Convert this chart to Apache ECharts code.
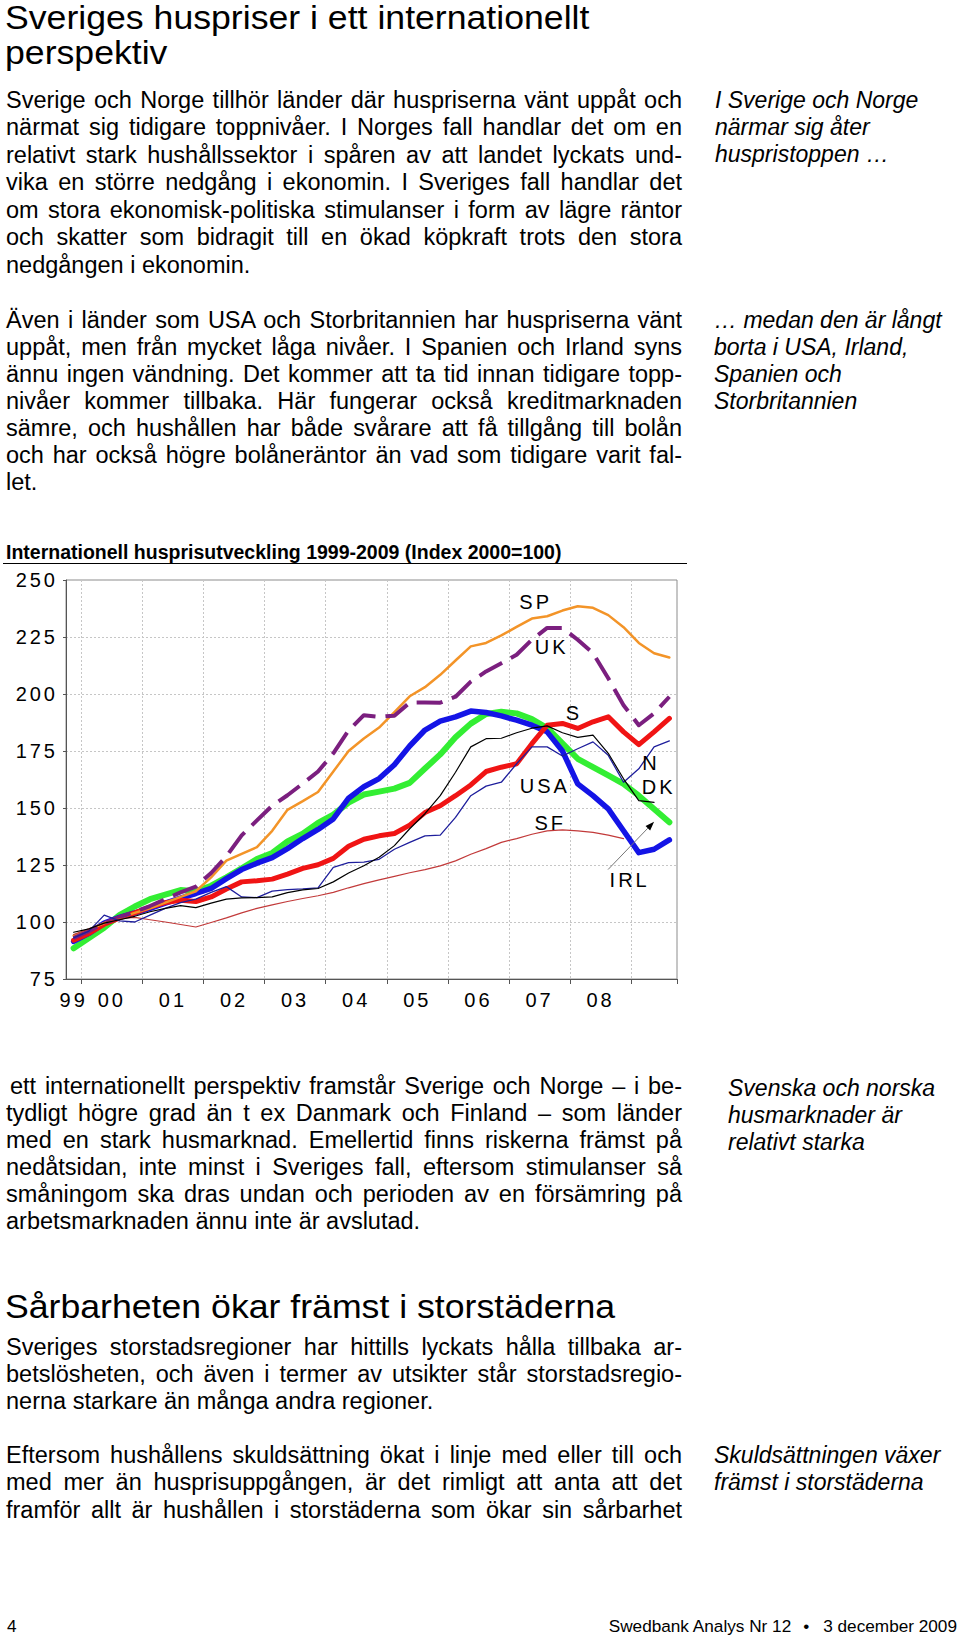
<!DOCTYPE html>
<html lang="sv">
<head>
<meta charset="utf-8">
<title>Sveriges huspriser i ett internationellt perspektiv</title>
<script src="https://cdn.jsdelivr.net/npm/echarts/dist/echarts.min.js"></script>
<style>
  html, body { margin: 0; padding: 0; background: #fff; }
  body { width: 960px; height: 1640px; position: relative; overflow: hidden;
         font-family: "Liberation Sans", Arial, Helvetica, sans-serif; color: #000; }
  .h1 { position: absolute; left: 5px; font-size: 33px; line-height: 35px; height: 35px; white-space: nowrap;
        transform: scaleX(1.08); transform-origin: 0 0; }
  .p { position: absolute; left: 6px; width: 676px; font-size: 23.5px; }
  .p div { text-align: justify; text-align-last: justify; }
  .p div.last { text-align-last: left; }
  .side { position: absolute; font-style: italic; font-size: 23px; white-space: nowrap; }
  .ctitle { position: absolute; left: 6px; top: 540.5px; font-weight: bold; font-size: 19.5px; line-height: 22px; white-space: nowrap; }
  .rule { position: absolute; left: 3px; top: 562.5px; width: 684px; height: 1.6px; background: #000; }
  .foot { position: absolute; top: 1615.6px; font-size: 17.2px; line-height: 20px; white-space: nowrap; }
  .foot .bul { display: inline-block; margin: 0 14px 0 12px; }
  #chart { position: absolute; left: 0; top: 0; width: 960px; height: 1640px; }
  #chart text { letter-spacing: 3px; }
</style>
</head>
<body>

<div class="h1" style="top:0px">Sveriges huspriser i ett internationellt</div>
<div class="h1" style="top:35px">perspektiv</div>

<div class="p" style="top:86.5px; line-height:27.6px">
  <div>Sverige och Norge tillhör länder där huspriserna vänt uppåt och</div>
  <div>närmat sig tidigare toppnivåer. I Norges fall handlar det om en</div>
  <div>relativt stark hushållssektor i spåren av att landet lyckats und-</div>
  <div>vika en större nedgång i ekonomin. I Sveriges fall handlar det</div>
  <div>om stora ekonomisk-politiska stimulanser i form av lägre räntor</div>
  <div>och skatter som bidragit till en ökad köpkraft trots den stora</div>
  <div class="last">nedgången i ekonomin.</div>
</div>

<div class="p" style="top:306.5px; line-height:27.1px">
  <div>Även i länder som USA och Storbritannien har huspriserna vänt</div>
  <div>uppåt, men från mycket låga nivåer. I Spanien och Irland syns</div>
  <div>ännu ingen vändning. Det kommer att ta tid innan tidigare topp-</div>
  <div>nivåer kommer tillbaka. Här fungerar också kreditmarknaden</div>
  <div>sämre, och hushållen har både svårare att få tillgång till bolån</div>
  <div>och har också högre bolåneräntor än vad som tidigare varit fal-</div>
  <div class="last">let.</div>
</div>

<div class="side" style="left:715px; top:86.6px; line-height:27.4px">I Sverige och Norge<br>närmar sig åter<br>huspristoppen …</div>
<div class="side" style="left:714px; top:306.5px; line-height:27px">… medan den är långt<br>borta i USA, Irland,<br>Spanien och<br>Storbritannien</div>

<div class="ctitle">Internationell husprisutveckling 1999-2009 (Index 2000=100)</div>
<div class="rule"></div>

<div class="p" style="top:1072.7px; line-height:27.15px">
  <div style="padding-left:4px">ett internationellt perspektiv framstår Sverige och Norge – i be-</div>
  <div>tydligt högre grad än t ex Danmark och Finland – som länder</div>
  <div>med en stark husmarknad. Emellertid finns riskerna främst på</div>
  <div>nedåtsidan, inte minst i Sveriges fall, eftersom stimulanser så</div>
  <div>småningom ska dras undan och perioden av en försämring på</div>
  <div class="last">arbetsmarknaden ännu inte är avslutad.</div>
</div>
<div class="side" style="left:728px; top:1075.2px; line-height:26.8px">Svenska och norska<br>husmarknader är<br>relativt starka</div>

<div class="h1" style="top:1289px">Sårbarheten ökar främst i storstäderna</div>

<div class="p" style="top:1334.2px; line-height:27.1px">
  <div>Sveriges storstadsregioner har hittills lyckats hålla tillbaka ar-</div>
  <div>betslösheten, och även i termer av utsikter står storstadsregio-</div>
  <div class="last">nerna starkare än många andra regioner.</div>
</div>

<div class="p" style="top:1441.5px; line-height:27.5px">
  <div>Eftersom hushållens skuldsättning ökat i linje med eller till och</div>
  <div>med mer än husprisuppgången, är det rimligt att anta att det</div>
  <div>framför allt är hushållen i storstäderna som ökar sin sårbarhet</div>
</div>
<div class="side" style="left:714px; top:1441.6px; line-height:27.7px">Skuldsättningen växer<br>främst i storstäderna</div>

<div class="foot" style="left:7px">4</div>
<div class="foot" style="right:3px">Swedbank Analys Nr 12<span class="bul">•</span>3 december 2009</div>

<div id="chart"></div>

<script>
// ---- Data (quarterly, index 2000 = 100) ----
const quarters = [
  '1999Q4',
  '2000Q1','2000Q2','2000Q3','2000Q4',
  '2001Q1','2001Q2','2001Q3','2001Q4',
  '2002Q1','2002Q2','2002Q3','2002Q4',
  '2003Q1','2003Q2','2003Q3','2003Q4',
  '2004Q1','2004Q2','2004Q3','2004Q4',
  '2005Q1','2005Q2','2005Q3','2005Q4',
  '2006Q1','2006Q2','2006Q3','2006Q4',
  '2007Q1','2007Q2','2007Q3','2007Q4',
  '2008Q1','2008Q2','2008Q3','2008Q4',
  '2009Q1','2009Q2','2009Q3'
];

const spain = [94, 96.5, 99.5, 101.8, 104, 106, 108.5, 111, 113.5, 119.6,
  126.9, 129.9, 132.8, 140, 149.2, 153, 157, 166, 175, 180.5,
  185.3, 192, 199, 203, 208.4, 214.7, 220.9, 222.4, 225.7, 229.4,
  233.1, 234.1, 236.6, 238.5, 237.8, 234.6, 229.3, 222.4, 217.9, 216];

const uk = [93, 96, 99.5, 102, 104.5, 107, 110, 113, 115.5, 121.5,
  128.8, 138, 144.6, 151, 155.6, 160.7, 166, 174, 184, 190.7,
  190, 190.5, 196.2, 196.3, 196.2, 198.8, 205.4, 209.9, 213.5, 217.2,
  223.8, 229, 229, 223.8, 217.9, 206.9, 195.1, 186.3, 191.5, 198.8];

const sweden = [92, 95, 99, 101.8, 104, 106.5, 108.5, 109.5, 109, 111,
  114.5, 117.6, 118.1, 118.8, 121, 123.5, 125.1, 127.9, 133.2, 136.3,
  137.8, 138.8, 142.5, 148, 151, 155.4, 160.1, 166, 167.9, 169.4,
  178.2, 186.3, 187.1, 184.9, 187.8, 190, 183.4, 177.8, 183.4, 189.3];

const usa = [91.5, 95, 99.5, 102, 104, 106, 108.3, 110.5, 112.5, 114.7,
  119, 123, 125.8, 128.2, 132.2, 136.6, 140.6, 145.2, 154.3, 159.3,
  162.9, 169, 177.2, 184.2, 188.1, 190, 192.5, 191.9, 190.4, 188.5,
  186.3, 183.4, 175, 160.6, 155.4, 149.6, 140, 130.4, 131.9, 136];

const ireland = [88.5, 93, 97.5, 103, 106.8, 110, 112, 114, 113.5, 115.9,
  119.6, 123.5, 127.6, 130.3, 135.3, 138.7, 143.5, 147.1, 152.4, 155.9,
  157.2, 158.5, 161, 167.3, 173.5, 181, 187, 191.2, 192.2, 191.5,
  189, 185.1, 178.3, 171.6, 167.9, 164.3, 160.6, 155.4, 149.6, 143.7];

const norway = [93, 96, 103, 100.5, 100, 103, 106, 108.5, 110, 113,
  115.5, 111, 110.7, 113.5, 114.2, 114.5, 115, 124, 126, 126.3,
  127.5, 131.9, 134.9, 137.8, 138.1, 145.9, 155.4, 159.6, 161.3, 169.4,
  176.8, 176.8, 172.8, 176, 179, 173.1, 161.3, 167.2, 176.8, 179.4];

const denmark = [95.5, 97, 99.5, 101, 102.5, 104.5, 106, 107.2, 106.3, 108.3,
  110, 110.6, 110.7, 111, 112.9, 114.1, 114.7, 117.6, 121.5, 124.7,
  128.4, 133.5, 140.9, 147.5, 155.4, 165.7, 176.8, 180.4, 180.6, 183,
  185, 186, 183, 181, 182, 174, 162.8, 153.2, 152.5, null];

const finland = [94.5, 97, 99.5, 101.5, 102, 101, 100, 98.9, 97.8, 99.8,
  101.8, 104, 106, 107.5, 109, 110.3, 111.5, 113, 115, 116.8,
  118.5, 120, 121.6, 123, 124.6, 126.8, 129.7, 132.2, 134.9, 136.6,
  138.5, 140, 140.4, 140, 139.3, 138.1, 136.6, null, null, null];

// y axis ticks
const yMin = 75, yMax = 250, yStep = 25;
// x axis year labels
const labelYears = [1999, 2000, 2001, 2002, 2003, 2004, 2005, 2006, 2007, 2008];
const yearLabels = ['99', '00', '01', '02', '03', '04', '05', '06', '07', '08'];

// ---- Layout / annotation config (not data) ----
const FONT = '"Liberation Sans", Arial, Helvetica, sans-serif';
function qStart(q) { return parseInt(q.slice(0, 4), 10) + (parseInt(q.slice(5), 10) - 1) / 4; }
const axisStart = qStart(quarters[0]);
const axisEnd = qStart(quarters[quarters.length - 1]) + 0.25;
const EIGHTHS = Math.round((axisEnd - axisStart) * 8);
// label position: centre of the visible part of each year, in 1/8-year units
const labelAt = {};
labelYears.forEach(function (y, i) {
  const a = Math.max(y, axisStart), b = Math.min(y + 1, axisEnd);
  labelAt[Math.round(((a + b) / 2 - axisStart) * 8)] = yearLabels[i];
});
// series annotations, in (1/8-year, index) space
const annotations = [
  { text: 'SP', e: 61.5, v: 240.2 },
  { text: 'UK', e: 63.6, v: 220.7 },
  { text: 'S', e: 66.5, v: 191.8 },
  { text: 'USA', e: 62.7, v: 159.8 },
  { text: 'N', e: 76.6, v: 169.9 },
  { text: 'DK', e: 77.6, v: 159.4 },
  { text: 'SF', e: 63.4, v: 143.6 },
  { text: 'IRL', e: 73.8, v: 118.6 }
];
const arrowFrom = { e: 70.97, v: 123 }, arrowTo = { e: 77, v: 144 };

const isYearStart = function (idx, val) { return /Q1$/.test(val); };

function lineSeries(name, data, color, width, dashed) {
  return {
    name: name, type: 'line', data: data, xAxisIndex: 0, yAxisIndex: 0,
    symbol: 'none', silent: true, connectNulls: false,
    lineStyle: { color: color, width: width, type: dashed ? [26, 10] : 'solid',
                 cap: dashed ? 'butt' : 'round', join: 'round' }
  };
}

const chart = echarts.init(document.getElementById('chart'), null, { renderer: 'svg' });
chart.setOption({
  animation: false,
  textStyle: { fontFamily: FONT },
  grid: { left: 66, top: 580, width: 611, height: 399, show: true,
          borderColor: '#8c8c8c', borderWidth: 1, backgroundColor: 'transparent' },
  xAxis: [
    { type: 'category', data: quarters, boundaryGap: true, position: 'bottom',
      axisLine: { show: true, onZero: false, lineStyle: { color: '#555', width: 1 } },
      axisTick: { show: true, interval: isYearStart, length: 5, lineStyle: { color: '#555' } },
      splitLine: { show: true, interval: isYearStart, lineStyle: { color: '#c6c6c6', width: 1, type: [2, 2] } },
      axisLabel: { show: false } },
    { type: 'value', min: 0, max: EIGHTHS, interval: 1, position: 'bottom',
      axisLine: { show: false }, axisTick: { show: false }, splitLine: { show: false },
      axisLabel: { show: true, margin: 11, color: '#000', fontSize: 20, fontFamily: FONT,
                   formatter: function (v) { return labelAt[Math.round(v)] || ''; } } }
  ],
  yAxis: {
    type: 'value', min: yMin, max: yMax, interval: yStep,
    axisLine: { show: true, lineStyle: { color: '#555', width: 1 } },
    axisTick: { show: true, length: 3, lineStyle: { color: '#555' } },
    splitLine: { show: true, lineStyle: { color: '#c6c6c6', width: 1, type: [2, 2] } },
    axisLabel: { color: '#000', fontSize: 20, fontFamily: FONT, margin: 8 }
  },
  series: [
    lineSeries('IRL', ireland, '#33EE33', 6),
    lineSeries('USA', usa, '#1414E6', 5.5),
    lineSeries('S', sweden, '#F01414', 5),
    lineSeries('SP', spain, '#F39428', 2.5),
    lineSeries('UK', uk, '#7B1F7F', 4, true),
    lineSeries('SF', finland, '#C23A3A', 1.2),
    lineSeries('N', norway, '#1E1E9C', 1.3),
    lineSeries('DK', denmark, '#000000', 1.2)
  ]
});

function px(e, v) {
  return [chart.convertToPixel({ xAxisIndex: 1 }, e), chart.convertToPixel({ yAxisIndex: 0 }, v)];
}
const elements = annotations.map(function (a) {
  const p = px(a.e, a.v);
  return { type: 'text', x: p[0], y: p[1], silent: true, z: 100,
           style: { text: a.text, font: '20px ' + FONT, fill: '#000',
                    align: 'center', verticalAlign: 'middle',
                    textAlign: 'center', textVerticalAlign: 'middle' } };
});
(function () {
  const a = px(arrowFrom.e, arrowFrom.v), b = px(arrowTo.e, arrowTo.v);
  const ang = Math.atan2(b[1] - a[1], b[0] - a[0]);
  const L = 9, W = 3.2;
  const base = [b[0] - L * Math.cos(ang), b[1] - L * Math.sin(ang)];
  elements.push({ type: 'line', silent: true, z: 100,
    shape: { x1: a[0], y1: a[1], x2: base[0], y2: base[1] },
    style: { stroke: '#777', lineWidth: 1 } });
  elements.push({ type: 'polygon', silent: true, z: 100,
    shape: { points: [b,
      [base[0] + W * Math.sin(ang), base[1] - W * Math.cos(ang)],
      [base[0] - W * Math.sin(ang), base[1] + W * Math.cos(ang)]] },
    style: { fill: '#000' } });
})();
chart.setOption({ graphic: { elements: elements } });
</script>
</body>
</html>
